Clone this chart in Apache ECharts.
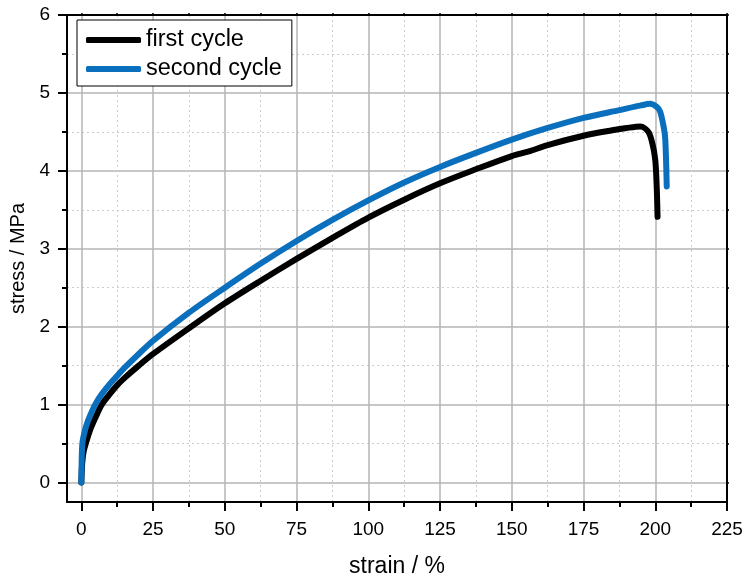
<!DOCTYPE html>
<html>
<head>
<meta charset="utf-8">
<script src="https://cdn.jsdelivr.net/npm/echarts@6/dist/echarts.min.js"></script>
<style>
  html, body { margin: 0; padding: 0; background: #fff; }
  #chart { width: 744px; height: 577px; }
</style>
</head>
<body>
<div id="chart"></div>
<script>
// first cycle (black)
const strain1 = [0, 0.3, 0.8, 1.7, 3, 5, 7.1, 10, 12.5, 15, 20, 25, 37.5, 50, 62.5, 75, 87.5, 100, 112.5, 125, 137.5, 150, 156, 162.5, 175, 185, 190, 194.8, 197.6, 199, 200, 200.5, 200.8];
const stress1 = [0, 0.25, 0.4, 0.52, 0.67, 0.84, 1.0, 1.14, 1.25, 1.34, 1.50, 1.65, 1.98, 2.30, 2.59, 2.87, 3.14, 3.40, 3.63, 3.84, 4.02, 4.19, 4.25, 4.33, 4.45, 4.52, 4.55, 4.57, 4.50, 4.35, 4.14, 3.8, 3.41];
// second cycle (blue)
const strain2 = [0, 0.1, 0.35, 1, 2, 3.3, 4.8, 7, 10, 12.5, 15, 20, 25, 37.5, 50, 62.5, 75, 87.5, 100, 112.5, 125, 137.5, 150, 162.5, 175, 187.5, 195, 198.2, 200.5, 201.7, 203, 203.5, 204];
const stress2 = [0, 0.25, 0.5, 0.63, 0.76, 0.88, 1.0, 1.13, 1.27, 1.37, 1.47, 1.65, 1.82, 2.18, 2.50, 2.81, 3.10, 3.37, 3.62, 3.85, 4.05, 4.23, 4.40, 4.55, 4.68, 4.78, 4.84, 4.86, 4.82, 4.76, 4.55, 4.40, 3.80];

const seriesNames = ['first cycle', 'second cycle'];
const seriesColors = ['#000000', '#0a6fbd'];

const xMajor = [0, 25, 50, 75, 100, 125, 150, 175, 200, 225];
const xMinor = [12.5, 37.5, 62.5, 87.5, 112.5, 137.5, 162.5, 187.5, 212.5];
const yMajor = [0, 1, 2, 3, 4, 5, 6];
const yMinor = [0.5, 1.5, 2.5, 3.5, 4.5, 5.5];

const xRange = [-5, 225];
const yRange = [-0.25, 6];

const font = "'Liberation Sans', Arial, sans-serif";
const black = { color: '#000', width: 2 };

function zip(xs, ys) {
  return xs.map((x, i) => [x, ys[i]]);
}

// main axis: labels, long ticks, solid grid
function majorAxis(range, ticks, position, margin, extra) {
  return Object.assign({
    type: 'value', min: range[0], max: range[1], position: position,
    axisLine: { show: true, onZero: false, lineStyle: black },
    axisTick: { show: true, inside: false, length: 9, customValues: ticks, lineStyle: black },
    axisLabel: { customValues: ticks, margin: margin, color: '#000', fontSize: 19, fontFamily: font },
    splitLine: { show: true, lineStyle: { color: '#b4b4b4', width: 1.5 } }
  }, extra);
}

// minor ticks + dotted grid
function minorAxis(range, ticks, position) {
  return {
    type: 'value', min: range[0], max: range[1], position: position,
    axisLine: { show: false, onZero: false },
    axisTick: { show: true, inside: false, length: 5, customValues: ticks, lineStyle: black },
    axisLabel: { show: false },
    splitLine: { show: true, lineStyle: { color: '#cccccc', width: 1, type: [2, 3] } }
  };
}

// opposite frame side with tiny ticks
function frameAxis(range, ticks, position) {
  return {
    type: 'value', min: range[0], max: range[1], position: position,
    axisLine: { show: true, onZero: false, lineStyle: black },
    axisTick: { show: true, inside: false, length: 2, customValues: ticks, lineStyle: { color: '#000', width: 1.5 } },
    axisLabel: { show: false },
    splitLine: { show: false }
  };
}

const allX = xMajor.concat(xMinor);
const allY = yMajor.concat(yMinor);

function makeSeries(i, xs, ys) {
  return {
    name: seriesNames[i], type: 'line', xAxisIndex: 0, yAxisIndex: 0,
    data: zip(xs, ys),
    smooth: 0.3, symbol: 'none', showSymbol: false,
    color: seriesColors[i],
    lineStyle: { width: 6, color: seriesColors[i], cap: 'round', join: 'round' }
  };
}

const option = {
  animation: false,
  backgroundColor: '#fff',
  textStyle: { fontFamily: font },
  grid: { left: 67, right: 17, top: 15, bottom: 75, containLabel: false, outerBoundsMode: 'none' },
  legend: {
    data: seriesNames.map((n, i) => ({ name: n, icon: 'roundRect', itemStyle: { color: seriesColors[i] } })),
    orient: 'vertical',
    left: 77, top: 20,
    padding: [8, 10, 5, 9],
    itemGap: 5,
    itemWidth: 55,
    itemHeight: 6,
    borderColor: '#000',
    borderWidth: 1,
    backgroundColor: '#fff',
    textStyle: { color: '#000', fontSize: 23.5, fontFamily: font }
  },
  xAxis: [
    majorAxis(xRange, xMajor, 'bottom', 18, {
      name: 'strain / %', nameLocation: 'middle', nameGap: 53,
      nameTextStyle: { color: '#000', fontSize: 23, fontFamily: font }
    }),
    minorAxis(xRange, xMinor, 'bottom'),
    frameAxis(xRange, allX, 'top')
  ],
  yAxis: [
    majorAxis(yRange, yMajor, 'left', 17, {
      name: 'stress / MPa', nameLocation: 'middle', nameGap: 33,
      nameTextStyle: { color: '#000', fontSize: 20, fontFamily: font }
    }),
    minorAxis(yRange, yMinor, 'left'),
    frameAxis(yRange, allY, 'right')
  ],
  series: [
    makeSeries(0, strain1, stress1),
    makeSeries(1, strain2, stress2)
  ]
};

const myChart = echarts.init(document.getElementById('chart'), null, { renderer: 'canvas' });
myChart.setOption(option);
</script>
</body>
</html>
